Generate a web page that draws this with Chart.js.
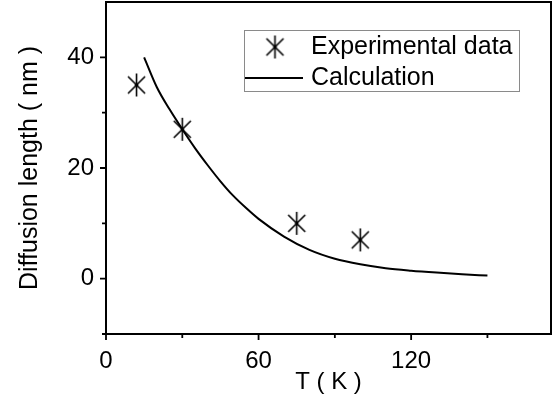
<!DOCTYPE html>
<html><head><meta charset="utf-8">
<script src="https://cdn.jsdelivr.net/npm/chart.js"></script>
<style>html,body{margin:0;padding:0;background:#fff}#wrap{width:559px;height:407px}</style>
</head><body><div id="wrap"><canvas id="c" width="559" height="407"></canvas></div>
<script>
const expT = [12, 30, 75, 100];
const expL = [35, 27, 10, 7];
const calcT = [15, 20, 25, 30, 35, 40, 45, 50, 55, 60, 70, 80, 90, 100, 110, 120, 130, 140, 150];
const calcL = [40, 34.6, 30.6, 27, 23.6, 20.5, 17.6, 15.0, 12.8, 10.8, 7.6, 5.2, 3.6, 2.6, 1.9, 1.45, 1.1, 0.8, 0.55];
const xTickValues = [0, 30, 60, 90, 120, 150];
const xTickLabels = ['0', '', '60', '', '120', ''];
const yTickValues = [-10, 0, 10, 20, 30, 40, 50];
const yTickLabels = ['', '0', '', '20', '', '40', ''];
const legendLabels = ['Experimental data', 'Calculation'];
const xTitle = 'T ( K )';
const yTitle = 'Diffusion length ( nm )';

const FONT = 'Liberation Sans, Arial, sans-serif';

function makeStar(size) {
  const c = document.createElement('canvas');
  c.width = size; c.height = size;
  const g = c.getContext('2d');
  const m = size / 2, r = size / 2 - 1;
  g.strokeStyle = '#000'; g.lineWidth = 1.6;
  g.beginPath();
  g.moveTo(m, m - r); g.lineTo(m, m + r);
  const d = r * Math.SQRT1_2 * 1.05;
  g.moveTo(m - d, m - d); g.lineTo(m + d, m + d);
  g.moveTo(m + d, m - d); g.lineTo(m - d, m + d);
  g.stroke();
  g.fillStyle = '#000';
  g.beginPath(); g.arc(m, m, 1.8, 0, Math.PI * 2); g.fill();
  return c;
}
const starImg = makeStar(25);

const framePlugin = {
  id: 'frame',
  afterDraw(chart) {
    const {ctx, chartArea: a, scales} = chart;
    ctx.save();
    ctx.strokeStyle = '#000';
    ctx.lineWidth = 2;
    ctx.strokeRect(a.left, a.top, a.right - a.left, a.bottom - a.top);
    ctx.lineWidth = 1.8;
    ctx.beginPath();
    xTickValues.forEach((v, i) => {
      const x = scales.x.getPixelForValue(v);
      const len = xTickLabels[i] ? 6 : 4;
      ctx.moveTo(x, a.bottom); ctx.lineTo(x, a.bottom + len);
    });
    yTickValues.forEach((v, i) => {
      if (v === 50) return;
      const y = scales.y.getPixelForValue(v);
      const len = yTickLabels[i] ? 6 : 4;
      ctx.moveTo(a.left, y); ctx.lineTo(a.left - len, y);
    });
    ctx.stroke();
    // legend
    ctx.strokeStyle = '#8a8a8a';
    ctx.lineWidth = 1;
    ctx.strokeRect(244.5, 30.5, 275, 61);
    ctx.drawImage(starImg, 275 - 12.5, 47 - 12.5);
    ctx.strokeStyle = '#000';
    ctx.lineWidth = 2;
    ctx.beginPath(); ctx.moveTo(245, 78); ctx.lineTo(303, 78); ctx.stroke();
    ctx.fillStyle = '#000';
    ctx.font = '25px ' + FONT;
    ctx.textBaseline = 'middle';
    ctx.textAlign = 'left';
    ctx.fillText(legendLabels[0], 311, 47);
    ctx.fillText(legendLabels[1], 311, 78);
    ctx.restore();
  }
};

new Chart(document.getElementById('c'), {
  type: 'scatter',
  data: {
    datasets: [
      {
        label: legendLabels[1],
        type: 'line',
        data: calcT.map((t, i) => ({x: t, y: calcL[i]})),
        borderColor: '#000',
        borderWidth: 2,
        pointRadius: 0,
        fill: false,
        cubicInterpolationMode: 'monotone'
      },
      {
        label: legendLabels[0],
        data: expT.map((t, i) => ({x: t, y: expL[i]})),
        pointStyle: starImg,
        pointRadius: 12
      }
    ]
  },
  options: {
    responsive: false,
    animation: false,
    devicePixelRatio: 1,
    layout: {autoPadding: false, padding: {top: 2, right: 8, left: 0, bottom: 0}},
    plugins: {legend: {display: false}, tooltip: {enabled: false}},
    scales: {
      x: {
        type: 'linear', min: 0, max: 175,
        afterBuildTicks(s) { s.ticks = xTickValues.map(v => ({value: v})); },
        afterFit(s) { s.height = 73; s.paddingLeft = 0; s.paddingRight = 0; },
        grid: {display: false},
        border: {display: false},
        ticks: {
          autoSkip: false, maxRotation: 0, padding: 5, color: '#000',
          font: {family: FONT, size: 24},
          callback: (v) => { const i = xTickValues.indexOf(v); return i >= 0 ? xTickLabels[i] : ''; }
        },
        title: {display: true, text: xTitle, color: '#000', font: {family: FONT, size: 24}, padding: {top: 0, bottom: 10}}
      },
      y: {
        type: 'linear', min: -10, max: 50,
        afterBuildTicks(s) { s.ticks = yTickValues.map(v => ({value: v})); },
        afterFit(s) { s.width = 106; s.paddingTop = 0; s.paddingBottom = 0; },
        grid: {display: false},
        border: {display: false},
        ticks: {
          autoSkip: false, padding: 4, color: '#000',
          font: {family: FONT, size: 24},
          callback: (v) => { const i = yTickValues.indexOf(v); return i >= 0 ? yTickLabels[i] : ''; }
        },
        title: {display: true, text: yTitle, color: '#000', font: {family: FONT, size: 25}, padding: {top: 15, bottom: 0}}
      }
    }
  },
  plugins: [framePlugin]
});
</script>
</body></html>
